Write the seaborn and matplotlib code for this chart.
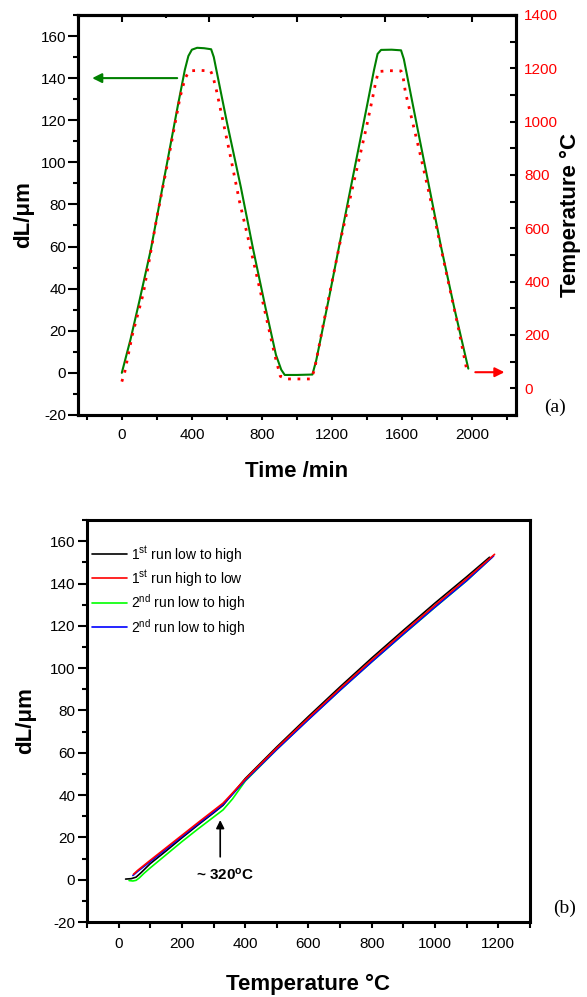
import matplotlib
matplotlib.use("Agg")
import matplotlib.pyplot as plt
from matplotlib.ticker import MultipleLocator
import seaborn as sns


# (a) length change and furnace temperature against time
TIME_DL = [0, 50, 100, 166, 250, 320, 360, 380, 400, 430, 470, 510, 525, 600, 680, 749,
           820, 880, 910, 930, 1000, 1088, 1110, 1186, 1233, 1320, 1400, 1440, 1460, 1480,
           1540, 1594, 1610, 1700, 1760, 1822, 1900, 1978]
DL = [0, 16, 34, 58.7, 96, 127, 144, 150.5, 153.5, 154.4, 154.2, 153.7, 150, 119, 88, 59,
      31, 8.5, 1.5, -1.0, -1.0, -0.8, 6, 37, 57, 93.5, 127, 144, 151.5, 153.4,
      153.5, 153.2, 149, 111, 86, 60, 30, 2]

TIME_TEMP = [0, 15, 60, 123, 200, 260, 332, 360, 380, 400, 450, 507, 520, 541, 617, 672,
             729, 806, 873, 905, 940, 1000, 1080, 1100, 1150, 1250, 1395, 1433, 1450, 1465,
             1530, 1594, 1605, 1619, 1699, 1765, 1850, 1920, 1970]
TEMP = [25, 55, 200, 356, 640, 840, 1090, 1160, 1185, 1191, 1192, 1190, 1170, 1115, 880, 700,
        540, 320, 125, 45, 35, 35, 35, 70, 240, 560, 975, 1094, 1150, 1188,
        1191, 1190, 1170, 1110, 890, 700, 440, 230, 66]

# (b) length change against temperature
T_RUN1_UP = [22, 40, 55, 70, 100, 150, 200, 250, 300, 330, 360, 400, 500, 600, 700, 800,
             900, 1000, 1100, 1172]
DL_RUN1_UP = [0.3, 0.5, 1.2, 3.2, 7.6, 13.6, 19.8, 25.8, 31.6, 35.2, 40.6, 47.8, 62.8, 77.2,
              91.2, 104.8, 117.9, 130.8, 143.2, 152.4]

T_RUN1_DOWN = [47, 60, 100, 150, 200, 250, 300, 330, 360, 400, 500, 600, 700, 800, 900,
               1000, 1100, 1188]
DL_RUN1_DOWN = [2.6, 4.4, 9.2, 15.1, 21.0, 26.9, 32.7, 36.2, 41.0, 47.5, 62.3, 76.5, 90.4,
                103.9, 117.0, 129.8, 142.3, 153.8]

T_RUN2_UP = [33, 45, 55, 65, 80, 100, 150, 200, 250, 300, 330, 360, 380, 400, 500, 600,
             700, 800, 900, 1000, 1100, 1180]
DL_RUN2_UP = [-0.4, -0.6, -0.3, 0.8, 3.0, 5.6, 11.8, 18.0, 23.9, 29.6, 33.0, 38.2, 42.4,
              46.6, 61.6, 75.8, 89.6, 103.0, 116.0, 128.8, 141.3, 152.4]

T_RUN2_B = [45, 60, 100, 150, 200, 250, 300, 330, 360, 400, 500, 600, 700, 800, 900,
            1000, 1100, 1185]
DL_RUN2_B = [2.0, 3.9, 8.6, 14.5, 20.4, 26.3, 32.0, 35.6, 40.4, 46.9, 61.6, 75.7, 89.6,
             103.0, 116.1, 128.9, 141.4, 153.0]

RUN_LABELS = [
    r"1$^{\mathregular{st}}$ run low to high",
    r"1$^{\mathregular{st}}$ run high to low",
    r"2$^{\mathregular{nd}}$ run low to high",
    r"2$^{\mathregular{nd}}$ run low to high",
]
RUN_COLORS = ["black", "red", "#00ff00", "blue"]


def style_spines(ax, width=2.2):
    for spine in ax.spines.values():
        spine.set_linewidth(width)
        spine.set_color("black")


def main() -> None:
    sns.set_theme(style="ticks")
    plt.rcParams["font.family"] = ["Liberation Sans", "DejaVu Sans"]
    plt.rcParams["mathtext.default"] = "regular"
    plt.rcParams["axes.unicode_minus"] = False
    for key in ("text.color", "axes.labelcolor", "xtick.color", "ytick.color"):
        plt.rcParams[key] = "black"

    fig = plt.figure(figsize=(5.87, 9.97), dpi=100)

    # ---- panel (a)
    ax = fig.add_axes([0.1329, 0.5838, 0.7461, 0.4012])
    ax2 = ax.twinx()
    sns.lineplot(x=TIME_DL, y=DL, ax=ax, color="#008000", linewidth=1.5,
                 estimator=None, sort=False)
    sns.lineplot(x=TIME_TEMP, y=TEMP, ax=ax2, color="red", linewidth=2.0,
                 linestyle=(0, (1, 2.4)), estimator=None, sort=False)

    ax.set_xlim(-250, 2250)
    ax.set_ylim(-20, 170)
    ax2.set_ylim(-100, 1400)
    ax.xaxis.set_major_locator(MultipleLocator(400))
    ax.xaxis.set_minor_locator(MultipleLocator(200))
    ax.yaxis.set_major_locator(MultipleLocator(20))
    ax.yaxis.set_minor_locator(MultipleLocator(10))
    ax2.yaxis.set_major_locator(MultipleLocator(200))
    ax2.yaxis.set_minor_locator(MultipleLocator(100))

    ax.tick_params(axis="y", which="major", direction="out", length=7, width=1.5,
                   labelsize=11, pad=1.5)
    ax.tick_params(axis="y", which="minor", direction="out", length=3.5, width=1.5)
    ax.tick_params(axis="x", which="both", direction="out", length=3.5, width=1.5,
                   labelsize=11, pad=6)
    ax2.tick_params(axis="y", which="both", direction="in", length=4.5, width=1.5,
                    labelsize=11, labelcolor="red", pad=6)

    top = ax.secondary_xaxis("top")
    top.xaxis.set_major_locator(MultipleLocator(500))
    top.xaxis.set_minor_locator(MultipleLocator(250))
    top.tick_params(which="major", direction="in", length=5, width=1.5, labeltop=False)
    top.tick_params(which="minor", direction="in", length=2.5, width=1.5)

    ax.set_xlabel("Time /min", fontsize=16, fontweight="bold")
    ax.set_ylabel("dL/\u03bcm", fontsize=16, fontweight="bold")
    ax2.set_ylabel("Temperature \u00b0C", fontsize=16, fontweight="bold")
    ax.xaxis.set_label_coords(0.5, -0.115)
    ax.yaxis.set_label_coords(-0.1, 0.5)
    ax2.yaxis.set_label_coords(1.1, 0.5)
    style_spines(ax)
    style_spines(ax2)
    style_spines(top)

    ax.annotate("", xy=(-185, 140), xytext=(332, 140),
                arrowprops=dict(arrowstyle="-|>", color="#008000", lw=1.5, mutation_scale=14))
    ax.annotate("", xy=(2200, 0.3), xytext=(2002, 0.3), annotation_clip=False,
                arrowprops=dict(arrowstyle="-|>", color="red", lw=1.5, mutation_scale=14))
    fig.text(555 / 587, 1 - 407 / 997, "(a)", fontsize=14, ha="center", va="center",
             family=["Liberation Serif", "DejaVu Serif"])

    # ---- panel (b)
    bx = fig.add_axes([0.1482, 0.0752, 0.7547, 0.4032])
    curves = [(T_RUN1_UP, DL_RUN1_UP), (T_RUN1_DOWN, DL_RUN1_DOWN),
              (T_RUN2_UP, DL_RUN2_UP), (T_RUN2_B, DL_RUN2_B)]
    order = [2, 0, 3, 1]  # drawing order, red ends on top
    for i in order:
        t, d = curves[i]
        sns.lineplot(x=t, y=d, ax=bx, color=RUN_COLORS[i], linewidth=1.2,
                     estimator=None, sort=False, label=RUN_LABELS[i])

    handles, labels = bx.get_legend_handles_labels()
    by_label = {}
    for h, i in zip(handles, order):
        by_label[i] = h
    bx.legend([by_label[i] for i in range(4)], RUN_LABELS, loc="upper left",
              bbox_to_anchor=(0.012, 0.94), frameon=False, fontsize=10,
              handlelength=2.5, handletextpad=0.3, labelspacing=0.25,
              borderaxespad=0, borderpad=0)

    bx.set_xlim(-100, 1300)
    bx.set_ylim(-20, 170)
    bx.xaxis.set_major_locator(MultipleLocator(200))
    bx.xaxis.set_minor_locator(MultipleLocator(100))
    bx.yaxis.set_major_locator(MultipleLocator(20))
    bx.yaxis.set_minor_locator(MultipleLocator(10))
    bx.tick_params(axis="y", which="major", direction="out", length=6.5, width=1.5,
                   labelsize=11, pad=2)
    bx.tick_params(axis="y", which="minor", direction="out", length=3.5, width=1.5)
    bx.tick_params(axis="x", which="both", direction="out", length=4, width=1.5,
                   labelsize=11, pad=7)
    bx.set_xlabel("Temperature \u00b0C", fontsize=16, fontweight="bold")
    bx.set_ylabel("dL/\u03bcm", fontsize=16, fontweight="bold")
    bx.xaxis.set_label_coords(0.5, -0.13)
    bx.yaxis.set_label_coords(-0.115, 0.5)
    style_spines(bx)

    bx.annotate("", xy=(321, 29.5), xytext=(321, 9.5),
                arrowprops=dict(arrowstyle="-|>", color="black", lw=1.2, mutation_scale=12))
    bx.text(336, 2.4, r"~ 320$^{\mathregular{o}}$C", fontsize=11, fontweight="bold",
            ha="center", va="center")
    fig.text(565 / 587, 1 - 908 / 997, "(b)", fontsize=14, ha="center", va="center",
             family=["Liberation Serif", "DejaVu Serif"])

    fig.savefig("out.png", dpi=100)
    plt.close(fig)


if __name__ == "__main__":
    main()
